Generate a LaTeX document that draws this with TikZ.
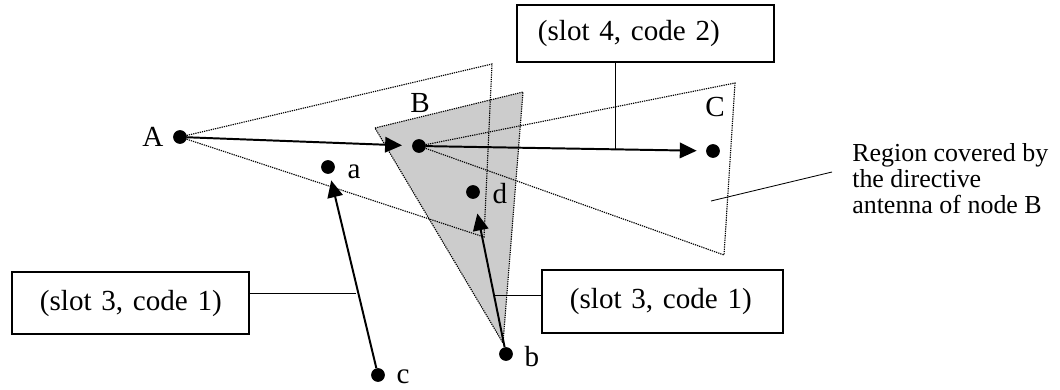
\documentclass[tikz,border=0pt]{standalone}
\usepackage{fontspec}
\setmainfont{Liberation Serif}
\usetikzlibrary{arrows.meta}
\newcommand{\slotfont}{\fontsize{20.7pt}{24pt}\selectfont}

\begin{document}
\begin{tikzpicture}[x=0.025cm,y=-0.025cm,>={Triangle[length=12pt,width=11pt]},
  station/.style={circle,fill=black,inner sep=0pt,minimum size=9.8pt},
  tag/.style={font=\slotfont,inner sep=0pt},
  slotbox/.style={draw,line width=0.8pt,inner ysep=0pt,align=left,font=\slotfont},
  beam/.style={draw=black,line width=0.8pt,dash pattern=on 0.9pt off 0.7pt},
  hop/.style={->,line width=1.4pt},
  pointer/.style={line width=0.6pt}]
\useasboundingbox (0,0) rectangle (1060,389);
\coordinate (farA1) at (492,64);
\coordinate (farA2) at (484,237);
\coordinate (farC1) at (735,83);
\coordinate (farC2) at (724,255);
\coordinate (shadeL) at (375,128);
\coordinate (shadeR) at (523,92);
\coordinate (shadeT) at (503,343);
\fill[black!20] (shadeL) -- (shadeR) -- (shadeT) -- cycle;
\draw[beam] (180,137) -- (farA1) -- (farA2) -- cycle;
\draw[beam] (419,146) -- (farC1) -- (farC2) -- cycle;
\draw[beam] (shadeL) -- (shadeR) -- (shadeT) -- cycle;
\node[station] (dotA) at (180,137) {};
\node[station] (dotB) at (419,146) {};
\node[station] (dotC) at (713,151) {};
\node[station] (dota) at (328,167) {};
\node[station] (dotd) at (473,192) {};
\node[station] (dotb) at (506,354) {};
\node[station] (dotc) at (378,375) {};
\node[tag] (labA) at (153,137) {A};
\node[tag] (labB) at (420,103) {B};
\node[tag] (labC) at (715,107) {C};
\node[tag] (laba) at (354,172) {a};
\node[tag] (labd) at (500,194) {d};
\node[tag] (labb) at (532,357) {b};
\node[tag] (labc) at (403,377) {c};
\draw[hop,shorten >=7pt] (dotA) -- (dotB);
\draw[hop,shorten >=6.5pt] (dotB) -- (dotC);
\draw[hop,shorten >=4.7pt] (dotc) -- (dota);
\draw[hop,shorten >=10.5pt] (dotb) -- (dotd);
\node[slotbox,minimum height=1.425cm,inner xsep=0.525cm,text width=5.375cm] (slotfour)
  at (645.5,33.5) {\mbox{(slot 4, code 2)}};
\node[slotbox,minimum height=1.55cm,inner xsep=0.7cm,text width=4.525cm] (slotleft)
  at (130.5,303) {\mbox{(slot 3, code 1)}};
\node[slotbox,minimum height=1.575cm,inner xsep=0.7cm,text width=4.625cm] (slotright)
  at (662.5,301.5) {\mbox{(slot 3, code 1)}};
\coordinate (hitBC) at (615,149);
\coordinate (hitCA) at (356,293);
\coordinate (hitBD) at (495,295);
\draw[pointer] (hitBC |- slotfour.south) -- (hitBC);
\draw[pointer] (slotleft.east |- hitCA) -- (hitCA);
\draw[pointer] (slotright.west |- hitBD) -- (hitBD);
\node[font=\fontsize{18.45pt}{18.5pt}\selectfont,align=left,inner sep=0pt,anchor=north west]
  (region) at (852,143) {Region covered by\\the directive\\antenna of node B};
\coordinate (regfoot) at (832,172);
\coordinate (regarea) at (711,201);
\draw[pointer] (regfoot) -- (regarea);
\end{tikzpicture}
\end{document}
